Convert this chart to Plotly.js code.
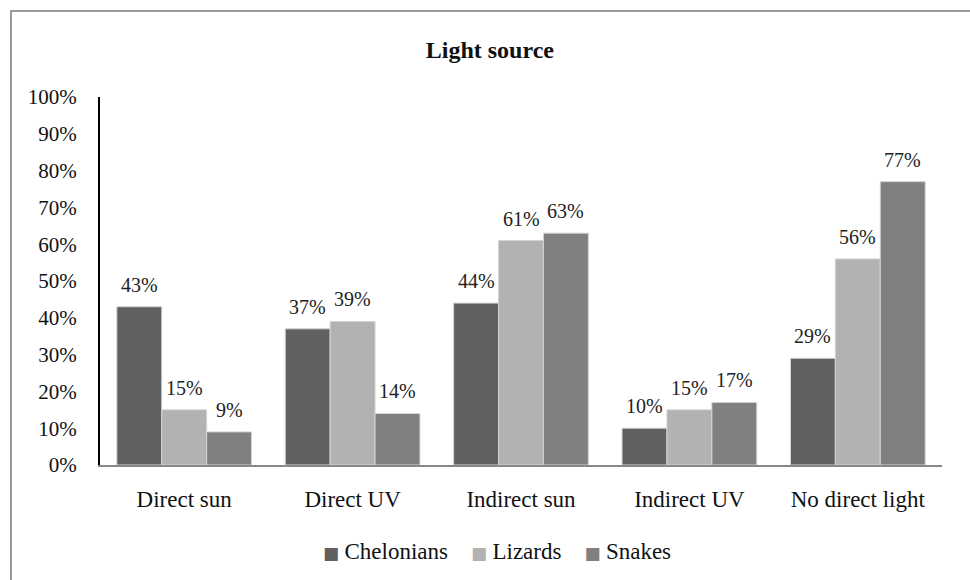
<!DOCTYPE html>
<html>
<head>
<meta charset="utf-8">
<script src="https://cdn.plot.ly/plotly-3.0.1.min.js"></script>
<style>
  html, body { margin: 0; padding: 0; background: #ffffff; }
  #frame { position: absolute; left: 10px; top: 10px; width: 1000px; height: 1000px;
           border-left: 2px solid #9a9a9a; border-top: 2px solid #9a9a9a; }
  #chart { position: absolute; left: 0; top: 0; width: 970px; height: 580px; }
</style>
</head>
<body>
<div id="frame"></div>
<div id="chart"></div>
<script>
const categories = ["Direct sun", "Direct UV", "Indirect sun", "Indirect UV", "No direct light"];
const chelonians = [43, 37, 44, 10, 29];
const lizards = [15, 39, 61, 15, 56];
const snakes = [9, 14, 63, 17, 77];
const seriesNames = ["Chelonians", "Lizards", "Snakes"];
const seriesColors = ["#606060", "#b2b2b2", "#808080"];
const yTickVals = [0, 10, 20, 30, 40, 50, 60, 70, 80, 90, 100];
const yTickText = yTickVals.map(v => v + "%");

const FONT = "Liberation Serif, Times New Roman, serif";
const seriesValues = [chelonians, lizards, snakes];

const W = 970, H = 580;
const margin = { l: 100, r: 28, t: 97, b: 115 };
const bargap = 0.2;
const plotW = W - margin.l - margin.r;
const barW = (plotW / categories.length) * (1 - bargap) / seriesValues.length;

const traces = seriesValues.map((vals, i) => ({
  type: "bar",
  name: seriesNames[i],
  x: categories,
  y: vals,
  marker: { color: seriesColors[i], line: { color: "#d4d4d4", width: 1 } },
  hoverinfo: "skip"
}));

const annotations = [];
seriesValues.forEach((vals, i) => {
  vals.forEach((v, j) => {
    annotations.push({
      x: categories[j], y: v, xref: "x", yref: "y",
      text: v + "%", showarrow: false,
      xanchor: "center", yanchor: "bottom",
      xshift: (i - (seriesValues.length - 1) / 2) * barW,
      yshift: 9,
      font: { family: FONT, size: 20, color: "#222222" }
    });
  });
});

// legend built as text: coloured square followed by the series name
const legendText = seriesNames.map((n, i) =>
  "<span style='color:" + seriesColors[i] + ";font-family:DejaVu Sans;font-size:17px'>■\u00a0</span>" +
  "<span style='font-family:Liberation Serif'>" + n + "</span>"
).join("\u00a0\u00a0\u00a0\u00a0");
annotations.push({
  x: 0.471, y: -0.235, xref: "paper", yref: "paper",
  xanchor: "center", yanchor: "middle", showarrow: false,
  text: legendText,
  font: { family: FONT, size: 23, color: "#111111" }
});

const layout = {
  width: W,
  height: H,
  paper_bgcolor: "rgba(0,0,0,0)",
  plot_bgcolor: "rgba(0,0,0,0)",
  margin: margin,
  barmode: "group",
  bargap: bargap,
  bargroupgap: 0,
  showlegend: false,
  annotations: annotations,
  title: {
    text: "<b>Light source</b>",
    font: { family: FONT, size: 24, color: "#111111" },
    x: 0.463, xanchor: "center", y: 0.915, yanchor: "middle", xref: "paper"
  },
  font: { family: FONT, size: 22, color: "#111111" },
  xaxis: {
    type: "category",
    showline: true, linecolor: "#888888", linewidth: 2,
    ticks: "", showgrid: false, zeroline: false,
    tickfont: { family: FONT, size: 23, color: "#111111" },
    ticklabelstandoff: 12
  },
  yaxis: {
    range: [0, 100],
    tickvals: yTickVals,
    ticktext: yTickText,
    showline: true, linecolor: "#000000", linewidth: 2,
    ticks: "", showgrid: false, zeroline: false,
    tickfont: { family: FONT, size: 21, color: "#111111" },
    ticklabelstandoff: 17
  }
};

Plotly.newPlot("chart", traces, layout, { displayModeBar: false, staticPlot: true });
</script>
</body>
</html>
